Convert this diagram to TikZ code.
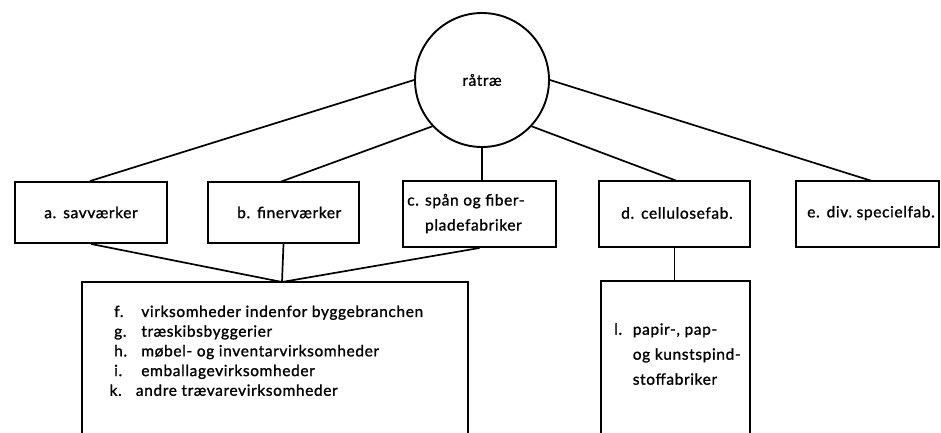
\documentclass[tikz,border=0pt]{standalone}
\usepackage{fontspec}
\setmainfont{Lato}[LetterSpace=4,FakeBold=1.2]
\begin{document}
\begin{tikzpicture}[x=1pt,y=-1pt,
  box/.style={draw,line width=1.9pt,rectangle,inner sep=0pt},
  conn/.style={line width=1.7pt},
  txt/.style={font=\fontsize{15.5}{25}\selectfont, align=left, inner sep=0pt}]
\clip (0,0) rectangle (941,432);
\node[draw,circle,line width=1.9pt,minimum size=134pt,inner sep=0pt,font=\fontsize{15.5}{17}\selectfont] (r) at (482,80) {råtræ};
\node[box,minimum width=152pt,minimum height=61pt,txt] (a) at (91,212.5) {a.\hspace{0.45em}savværker};
\node[box,minimum width=151pt,minimum height=61pt,txt] (b) at (283.5,212.5) {};
\node[txt,anchor=west] (btext) at (237,212.5) {b.\hspace{0.45em}finerværker};
\node[box,minimum width=153pt,minimum height=66pt] (c) at (479.5,214) {};
\node[txt,anchor=west] (ctext) at (407,213) {\begin{tabular}{@{}l@{\hspace{0.4em}}l@{}}c. & spån og fiber-\\ & pladefabriker\end{tabular}};
\node[box,minimum width=151pt,minimum height=66pt] (d) at (674.5,214) {};
\node[txt,anchor=west] (dtext) at (621,213) {d.\hspace{0.45em}cellulosefab.};
\node[box,minimum width=143pt,minimum height=66pt] (e) at (867.5,214) {};
\node[txt,anchor=west] (etext) at (807,213) {e.\hspace{0.45em}div.~specielfab.};
\node[box,minimum width=386pt,minimum height=168pt] (f) at (275,366) {};
\node[txt,anchor=north west,font=\fontsize{15.5}{19.7}\selectfont] (ftext) at (114,303) {\begin{tabular}{@{}l@{}l@{}}\makebox[1.75em][l]{f.} & virksomheder indenfor byggebranchen\\ g. & træskibsbyggerier\\ h. & møbel- og inventarvirksomheder\\ i. & emballagevirksomheder\\ \hspace{-0.3em}k. & \hspace{-0.35em}andre trævarevirksomheder\end{tabular}};
\node[box,minimum width=149pt,minimum height=169pt] (l) at (675.5,365.5) {};
\node[txt,anchor=north west] (ltext) at (614,317) {\begin{tabular}{@{}l@{}l@{}}\makebox[1.2em][l]{l.} & papir-, pap-\\ & og kunstspind-\\ & stoffabriker\end{tabular}};
\coordinate (fj) at (282,282);
\draw[conn] (r.180) -- (a.north -| 90,0);
\draw[conn] (r.223) -- (280,182);
\draw[conn] (r.270) -- (r.270 |- c.north);
\draw[conn] (r.317) -- (677,181);
\draw[conn] (r.0) -- (872,181);
\draw[conn] (a.south) -- (fj);
\draw[conn] (b.south) -- (fj);
\draw[conn] (c.south) -- (fj);
\draw[conn] (d.south) -- (d.south |- l.north);
\end{tikzpicture}
\end{document}
